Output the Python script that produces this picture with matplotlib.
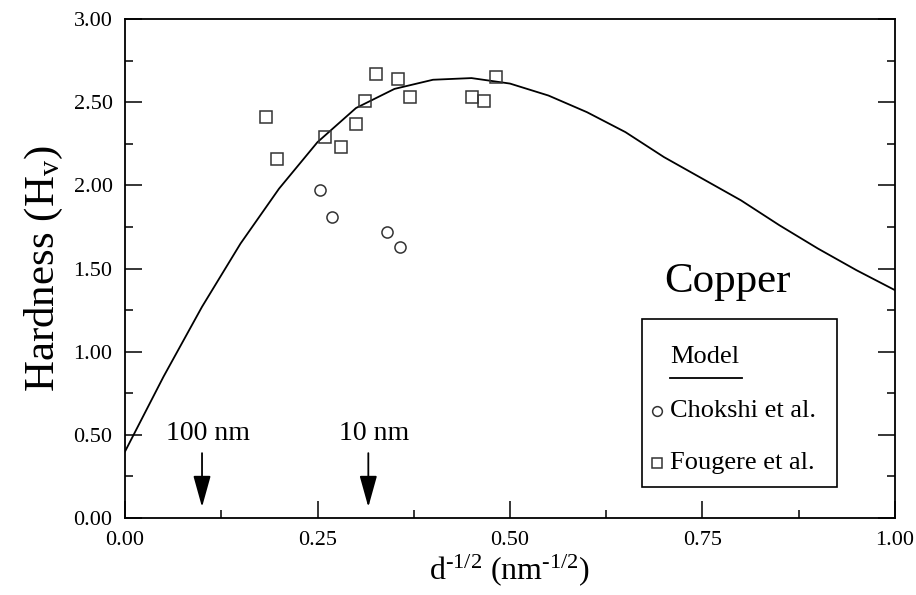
import numpy as np
import matplotlib
matplotlib.use("Agg")
import matplotlib.pyplot as plt
from matplotlib.patches import Rectangle
from matplotlib.ticker import MultipleLocator, FormatStrFormatter

plt.rcParams['font.family'] = ['Liberation Serif', 'DejaVu Serif']
plt.rcParams['mathtext.fontset'] = 'custom'
plt.rcParams['mathtext.rm'] = 'Liberation Serif'
plt.rcParams['mathtext.it'] = 'Liberation Serif:italic'

# model curve
model_x = [0.0, 0.05, 0.1, 0.15, 0.2, 0.25, 0.3, 0.35, 0.4, 0.45, 0.5,
           0.55, 0.6, 0.65, 0.7, 0.75, 0.8, 0.85, 0.9, 0.95, 1.0]
model_y = [0.40, 0.85, 1.27, 1.65, 1.98, 2.26, 2.465, 2.58, 2.635, 2.645, 2.612,
           2.54, 2.44, 2.32, 2.17, 2.04, 1.91, 1.76, 1.62, 1.49, 1.37]

# Chokshi et al.
chokshi_x = [0.253, 0.269, 0.340, 0.357]
chokshi_y = [1.97, 1.81, 1.72, 1.63]

# Fougere et al.
fougere_x = [0.183, 0.198, 0.260, 0.280, 0.300, 0.312, 0.326, 0.354, 0.370,
             0.451, 0.466, 0.482]
fougere_y = [2.41, 2.16, 2.29, 2.23, 2.37, 2.51, 2.67, 2.64, 2.53,
             2.53, 2.51, 2.65]

# grain size markers
arrow_x = [0.1, 0.316]
arrow_labels = ['100 nm', '10 nm']

fig = plt.figure(figsize=(9.16, 5.95), dpi=100)
ax = fig.add_axes([0.1365, 0.1294, 0.8405, 0.8386])

ax.plot(model_x, model_y, color='black', lw=1.3)
ax.plot(chokshi_x, chokshi_y, 'o', mfc='none', mec='#333333', ms=8, mew=1.1)
ax.plot(fougere_x, fougere_y, 's', mfc='none', mec='#333333', ms=9, mew=1.1)

for xa, lab in zip(arrow_x, arrow_labels):
    ax.annotate('', xy=(xa, 0.066), xytext=(xa, 0.39),
                arrowprops=dict(arrowstyle='-|>,head_length=0.97,head_width=0.27',
                                mutation_scale=20, color='black', lw=1.3,
                                shrinkA=0, shrinkB=0))
    ax.text(xa + 0.008, 0.51, lab, fontsize=20, ha='center', va='center')

ax.text(0.7825, 1.42, 'Copper', fontsize=31, ha='center', va='center')

# legend box drawn by hand
ax.add_patch(Rectangle((0.672, 0.0615), 0.253, 0.3365, transform=ax.transAxes,
                       fill=False, ec='black', lw=1.2))
ax.text(0.708, 0.323, 'Model', transform=ax.transAxes, fontsize=19,
        ha='left', va='center')
ax.plot([0.708, 0.801], [0.280, 0.280], transform=ax.transAxes,
        color='black', lw=1.3)
ax.plot([0.691], [0.2144], 'o', transform=ax.transAxes, mfc='none',
        mec='#333333', ms=7, mew=1.1)
ax.text(0.708, 0.2144, 'Chokshi et al.', transform=ax.transAxes, fontsize=19,
        ha='left', va='center')
ax.plot([0.691], [0.111], 's', transform=ax.transAxes, mfc='none',
        mec='#333333', ms=7, mew=1.1)
ax.text(0.708, 0.111, 'Fougere et al.', transform=ax.transAxes, fontsize=19,
        ha='left', va='center')

ax.set_xlim(0, 1.0)
ax.set_ylim(0, 3.0)
ax.xaxis.set_major_locator(MultipleLocator(0.25))
ax.xaxis.set_minor_locator(MultipleLocator(0.125))
ax.yaxis.set_major_locator(MultipleLocator(0.5))
ax.yaxis.set_minor_locator(MultipleLocator(0.25))
ax.xaxis.set_major_formatter(FormatStrFormatter('%.2f'))
ax.yaxis.set_major_formatter(FormatStrFormatter('%.2f'))
ax.tick_params(which='both', direction='in', right=True, top=False,
               labelsize=16, width=1.1)
ax.tick_params(which='major', length=12, pad=9)
ax.tick_params(which='minor', length=6)
for s in ax.spines.values():
    s.set_linewidth(1.3)

ax.set_xlabel(r'd$^{\text{-1/2}}$ (nm$^{\text{-1/2}}$)', fontsize=23, labelpad=2)
ax.set_ylabel(r'Hardness (H$_{\rm v}$)', fontsize=31, labelpad=6)

fig.savefig('out.png', dpi=100)
